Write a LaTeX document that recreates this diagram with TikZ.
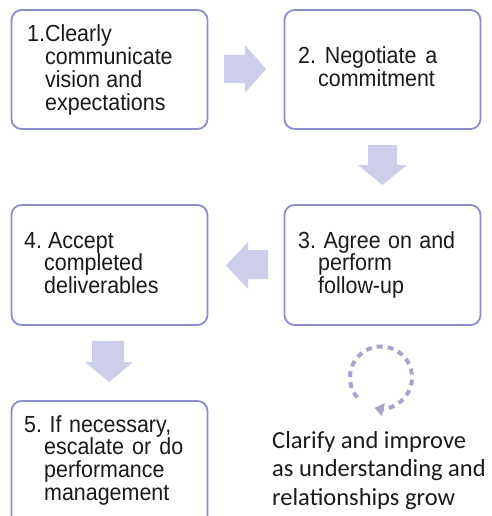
\documentclass[tikz,border=0pt]{standalone}
\usepackage{fontspec}
\setmainfont{Liberation Sans}
\newfontfamily\boxfont[FakeStretch=0.92]{Liberation Sans}
\newfontfamily\calib{Carlito}
\usetikzlibrary{arrows.meta}
\definecolor{boxline}{HTML}{8C8ECC}
\definecolor{blockarr}{HTML}{CDCFEA}
\definecolor{cyc}{HTML}{ACA3CC}
\definecolor{txt}{HTML}{1A1A1A}
\begin{document}
\begin{tikzpicture}[x=1pt,y=-1pt,
  stepbox/.style={draw=boxline, line width=1.8pt, rounded corners=10pt, fill=white, inner sep=0pt, minimum width=196pt},
  boxtext/.style={anchor=base west, inner sep=0pt, text=txt, font=\boxfont\fontsize{23.3}{22.8}\selectfont},
  captext/.style={anchor=base west, inner sep=0pt, text=txt, font=\calib\fontsize{24.5}{28.5}\selectfont},
  blockarrow/.style={fill=blockarr, draw=none}]
\path[use as bounding box] (0,0) rectangle (491,516);
\clip (0,0) rectangle (491,516);

% boxes
\node[stepbox, minimum height=119pt] (b1) at (109.5,69.5) {};
\node[stepbox, minimum height=119pt] (b2) at (382.5,69.5) {};
\node[stepbox, minimum height=120pt] (b3) at (382.5,265) {};
\node[stepbox, minimum height=120pt] (b4) at (109.5,265) {};
\node[stepbox, minimum height=130pt] (b5) at (109.5,466) {};

% texts
\node[boxtext] (t1) at (27,42) {\vtop{\hbox{1.Clearly}\hbox{\kern18pt communicate}\hbox to 115pt{\kern18pt vision\hfill and}\hbox{\kern18pt expectations}}};
\node[boxtext] (t2) at (298,64) {\vtop{\hbox to 139pt{2.\hfill Negotiate\hfill a}\hbox{\kern20pt commitment}}};
\node[boxtext] (t3) at (298,248) {\vtop{\hbox to 157pt{3.\hfill Agree\hfill on\hfill and}\hbox{\kern20pt perform}\hbox{\kern20pt follow-up}}};
\node[boxtext] (t4) at (24,248) {\vtop{\hbox{\makebox[24pt][l]{4.}Accept}\hbox{\kern20pt completed}\hbox{\kern20pt deliverables}}};
\node[boxtext] (t5) at (24,432) {\vtop{\hbox to 147pt{5.\hfill If\hfill necessary,}\hbox{\kern20pt\hbox to 139pt{escalate\hfill or\hfill do}}\hbox{\kern20pt performance}\hbox{\kern20pt management}}};

% block arrows
\fill[blockarrow] (224,55) -- (245,55) -- (245,45) -- (266,69) -- (245,93) -- (245,83) -- (224,83) -- cycle;
\fill[blockarrow] (368,145) -- (397,145) -- (397,165) -- (407,165) -- (382.5,185) -- (358,165) -- (368,165) -- cycle;
\fill[blockarrow] (268,250) -- (248,250) -- (248,242) -- (226,265.5) -- (248,289) -- (248,279) -- (268,279) -- cycle;
\fill[blockarrow] (92,341) -- (124,341) -- (124,362) -- (133,362) -- (109,382) -- (85,362) -- (92,362) -- cycle;

% cycle arrow
\coordinate (cc) at (381,377.5);
\draw[cyc, line width=4pt, dash pattern=on 6pt off 5pt, -{Triangle[length=9pt,width=13pt]}]
  ([shift={(140:31)}]cc) arc[start angle=140, end angle=462, radius=31];

% caption
\node[captext] (cap) at (272,448) {\vtop{\hbox{Clarify and improve}\hbox{as understanding and}\hbox{relationships grow}}};
\end{tikzpicture}
\end{document}
